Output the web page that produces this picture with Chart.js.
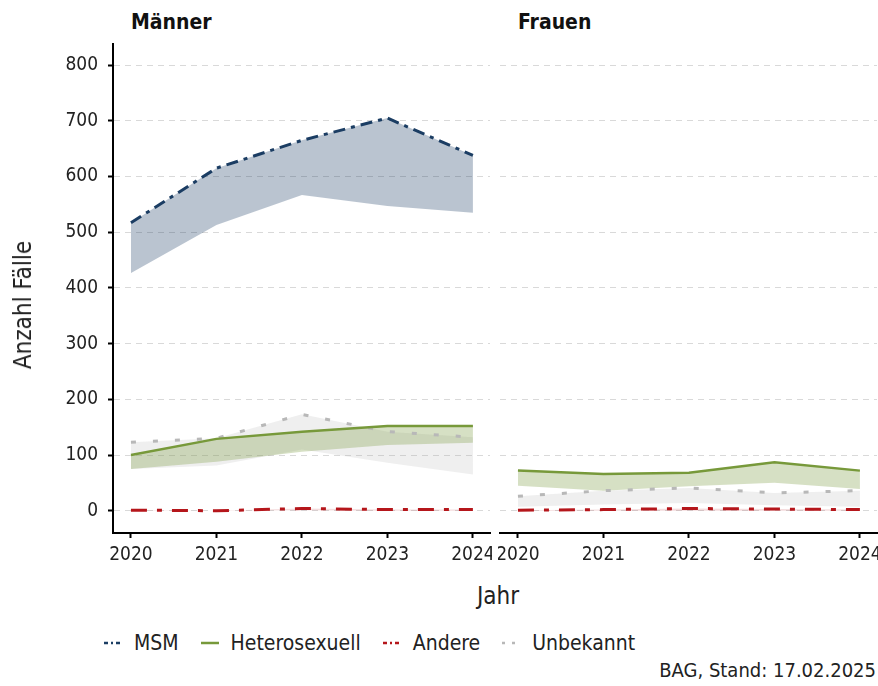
<!DOCTYPE html>
<html>
<head>
<meta charset="utf-8">
<script src="https://cdn.jsdelivr.net/npm/chart.js@4/dist/chart.umd.min.js"></script>
<style>
  body { margin: 0; background: #fff; }
  #wrap { position: relative; width: 878px; height: 686px; overflow: hidden;
          font-family: 'DejaVu Sans Condensed', 'DejaVu Sans', sans-serif; color: #222; }
  canvas { position: absolute; }
  .facet { position: absolute; top: 10px; font-size: 21px; font-weight: bold; color: #111; }
  .ytitle { position: absolute; left: 23px; top: 305px; font-size: 24px;
            transform: translate(-50%, -50%) rotate(-90deg); white-space: nowrap; }
  .xtitle { position: absolute; left: 498px; top: 596px; font-size: 24px; transform: translate(-50%, -50%); }
  .legend { position: absolute; left: 104px; top: 631px; display: flex; align-items: center; font-size: 21px; }
  .legend span.item { display: flex; align-items: center; margin-right: 22px; }
  .legend svg { margin-right: 12px; }
  .caption { position: absolute; right: 2px; top: 658px; font-size: 20px; }
</style>
</head>
<body>
<div id="wrap">
  <div class="facet" style="left:131px">Männer</div>
  <div class="facet" style="left:518px">Frauen</div>
  <canvas id="men" width="492" height="540" style="left:0;top:40px"></canvas>
  <canvas id="women" width="380" height="540" style="left:498px;top:40px"></canvas>
  <div class="ytitle">Anzahl Fälle</div>
  <div class="xtitle">Jahr</div>
  <div class="legend">
    <span class="item"><svg width="18" height="6"><line x1="0" y1="3" x2="18" y2="3" stroke="#1b3d63" stroke-width="2.5" stroke-dasharray="4,3,2,3"/></svg>MSM</span>
    <span class="item"><svg width="18" height="6"><line x1="0" y1="3" x2="18" y2="3" stroke="#77993a" stroke-width="2.5"/></svg>Heterosexuell</span>
    <span class="item"><svg width="18" height="6"><line x1="0" y1="3" x2="18" y2="3" stroke="#b5161b" stroke-width="2.5" stroke-dasharray="4,3,2,3"/></svg>Andere</span>
    <span class="item"><svg width="18" height="6"><line x1="0" y1="3" x2="18" y2="3" stroke="#b8b8b8" stroke-width="2.5" stroke-dasharray="3,7"/></svg>Unbekannt</span>
  </div>
  <div class="caption">BAG, Stand: 17.02.2025</div>
</div>
<script>
  const FONT = "'DejaVu Sans Condensed', 'DejaVu Sans', sans-serif";

  const years = [2020, 2021, 2022, 2023, 2024];
  const yTicks = [0, 100, 200, 300, 400, 500, 600, 700, 800];

  // Männer
  const menMSM = [517, 615, 665, 705, 638];
  const menMSMLow = [427, 513, 567, 547, 535];
  const menHetero = [100, 129, 142, 152, 152];
  const menHeteroLow = [75, 88, 106, 118, 122];
  const menAndere = [1, 0, 4, 2, 2];
  const menAndereLow = [0, 0, 1, 0, 0];
  const menUnbek = [123, 130, 173, 142, 132];
  const menUnbekLow = [75, 81, 110, 86, 65];

  // Frauen
  const womenHetero = [72, 66, 68, 87, 72];
  const womenHeteroLow = [45, 36, 44, 50, 39];
  const womenAndere = [1, 2, 4, 3, 2];
  const womenAndereLow = [0, 0, 0, 0, 0];
  const womenUnbek = [26, 36, 41, 32, 36];
  const womenUnbekLow = [7, 11, 14, 10, 7];

  const styles = {
    msm:    { line: '#1b3d63', band: 'rgba(27,61,99,0.3)',    width: 3,   dash: [12, 6, 4, 6] },
    hetero: { line: '#77993a', band: 'rgba(119,153,58,0.3)',  width: 2.5, dash: [] },
    andere: { line: '#b5161b', band: 'rgba(181,22,27,0.15)',  width: 3,   dash: [16, 10, 5, 10] },
    unbek:  { line: '#b8b8b8', band: 'rgba(176,176,176,0.2)', width: 3,   dash: [5, 17] }
  };

  const pts = arr => years.map((yr, i) => ({ x: yr, y: arr[i] }));

  // lower edge (invisible) + line that fills down to it
  function band(values, low, st) {
    return [
      { data: pts(low), borderWidth: 0, pointRadius: 0, fill: false, borderColor: 'transparent' },
      { data: pts(values), borderColor: st.line, borderWidth: st.width, borderDash: st.dash,
        backgroundColor: st.band, fill: '-1', pointRadius: 0, tension: 0 }
    ];
  }

  function makeOptions(isLeft) {
    return {
      responsive: false,
      animation: false,
      layout: { padding: isLeft ? { top: 4, right: 2, left: 0, bottom: 0 } : { top: 4, right: 1, left: 2, bottom: 0 } },
      plugins: {
        legend: { display: false },
        tooltip: { enabled: false },
        filler: { drawTime: 'beforeDatasetsDraw' }
      },
      scales: {
        x: {
          type: 'linear',
          min: 2019.79,
          max: 2024.2,
          afterBuildTicks: s => { s.ticks = years.map(v => ({ value: v })); },
          afterFit: s => { s.height = 47; s.paddingLeft = 0; s.paddingRight = 0; },
          ticks: { color: '#222', font: { family: FONT, size: 19 }, padding: 6, callback: v => String(v) },
          grid: { drawOnChartArea: false, drawTicks: true, tickLength: 5, tickColor: '#000', tickWidth: 2 },
          border: { display: true, color: '#000', width: 2 }
        },
        y: {
          min: -40,
          max: 838,
          afterBuildTicks: s => { s.ticks = yTicks.map(v => ({ value: v })); },
          afterFit: s => { s.width = isLeft ? 113 : 0; s.paddingTop = 0; s.paddingBottom = 0; },
          ticks: { display: isLeft, color: '#222', font: { family: FONT, size: 19 }, padding: 10 },
          grid: { color: '#d9d9d9', lineWidth: 1, drawTicks: isLeft, tickLength: 5, tickColor: '#000', tickWidth: 2 },
          border: { display: isLeft, color: '#000', width: 2, dash: [6, 5] }
        }
      }
    };
  }

  new Chart(document.getElementById('men'), {
    type: 'line',
    data: {
      datasets: [
        ...band(menMSM, menMSMLow, styles.msm),
        ...band(menHetero, menHeteroLow, styles.hetero),
        ...band(menAndere, menAndereLow, styles.andere),
        ...band(menUnbek, menUnbekLow, styles.unbek)
      ]
    },
    options: makeOptions(true)
  });

  new Chart(document.getElementById('women'), {
    type: 'line',
    data: {
      datasets: [
        ...band(womenHetero, womenHeteroLow, styles.hetero),
        ...band(womenAndere, womenAndereLow, styles.andere),
        ...band(womenUnbek, womenUnbekLow, styles.unbek)
      ]
    },
    options: makeOptions(false)
  });
</script>
</body>
</html>
